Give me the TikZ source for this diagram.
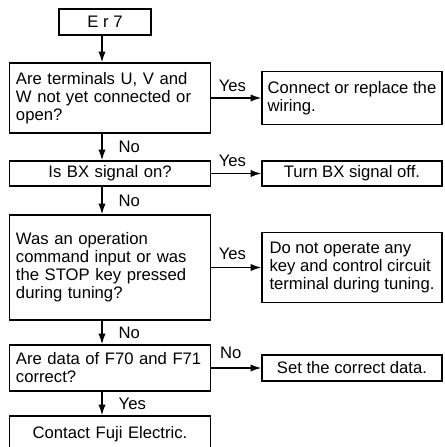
\documentclass[tikz,border=0pt]{standalone}
\usepackage{fontspec}
\setmainfont{Liberation Sans}
\usetikzlibrary{arrows.meta, calc}

\begin{document}
\begin{tikzpicture}[x=0.75pt, y=0.75pt, >={Latex[length=8pt, width=5.5pt]},
  every node/.style={font=\fontsize{12.5}{13.5}\selectfont},
  box/.style={draw, line width=1.2pt, inner xsep=5pt, inner ysep=2pt},
  askbox/.style={box, text width=141pt, align=left},
  askmid/.style={box, text width=141pt, align=center},
  fixbox/.style={box, minimum width=135pt, inner xsep=2pt, align=left},
  fixmid/.style={box, minimum width=135pt, inner xsep=2pt, align=center},
  flow/.style={->, line width=1pt},
  lbl/.style={inner sep=0pt}]
  \useasboundingbox[fill=white] (0,0) rectangle (444,-447);
  \coordinate (spine) at (102,0);
  \node[box, minimum width=69pt, minimum height=19.5pt] (er7) at (105,-22) {E r 7};
  \node[askbox, minimum height=52.5pt] (q1) at (110,-98) {Are terminals U, V and\\W not yet connected or\\open?};
  \node[askmid, minimum height=18.75pt] (q2) at (110,-173.5) {Is BX signal on?};
  \node[askbox, minimum height=78.75pt] (q3) at (110,-267.5) {Was an operation\\command input or was\\the STOP key pressed\\during tuning?};
  \node[askbox, minimum height=34.5pt] (q4) at (110,-368) {Are data of F70 and F71\\correct?};
  \node[askmid, minimum height=27pt] (q5) at (110,-434) {Contact Fuji Electric.};
  \node[fixbox, minimum height=39.75pt] (a1) at (352,-98) {Connect or replace the\\wiring.};
  \node[fixmid, minimum height=18.75pt] (a2) at (352,-173.5) {Turn BX signal off.};
  \node[fixbox, minimum height=52.5pt] (a3) at (352,-267.5) {Do not operate any\\key and control circuit\\terminal during tuning.};
  \node[fixmid, minimum height=19.5pt] (a4) at (352,-368) {Set the correct data.};
  \draw[flow] (er7.south -| spine) -- (q1.north -| spine);
  \draw[flow] (q1.south -| spine) -- node[lbl, right=12pt] (no1) {No} (q2.north -| spine);
  \draw[flow] (q2.south -| spine) -- node[lbl, right=12pt] (no2) {No} (q3.north -| spine);
  \draw[flow] (q3.south -| spine) -- node[lbl, right=12pt] (no3) {No} (q4.north -| spine);
  \draw[flow] (q4.south -| spine) -- node[lbl, right=12pt] (yes5) {Yes} (q5.north -| spine);
  \draw[flow] (q1.east) -- node[lbl, pos=0, anchor=base west, xshift=5pt, yshift=5pt] (yes1) {Yes} (a1.west);
  \draw[flow] (q2.east) -- node[lbl, pos=0, anchor=base west, xshift=5pt, yshift=5pt] (yes2) {Yes} (a2.west);
  \draw[flow] (q3.east) -- node[lbl, pos=0, anchor=base west, xshift=5pt, yshift=6pt] (yes3) {Yes} (a3.west);
  \draw[flow] (q4.east) -- node[lbl, pos=0, anchor=base west, xshift=6pt, yshift=7pt] (no4) {No} (a4.west);
\end{tikzpicture}
\end{document}
